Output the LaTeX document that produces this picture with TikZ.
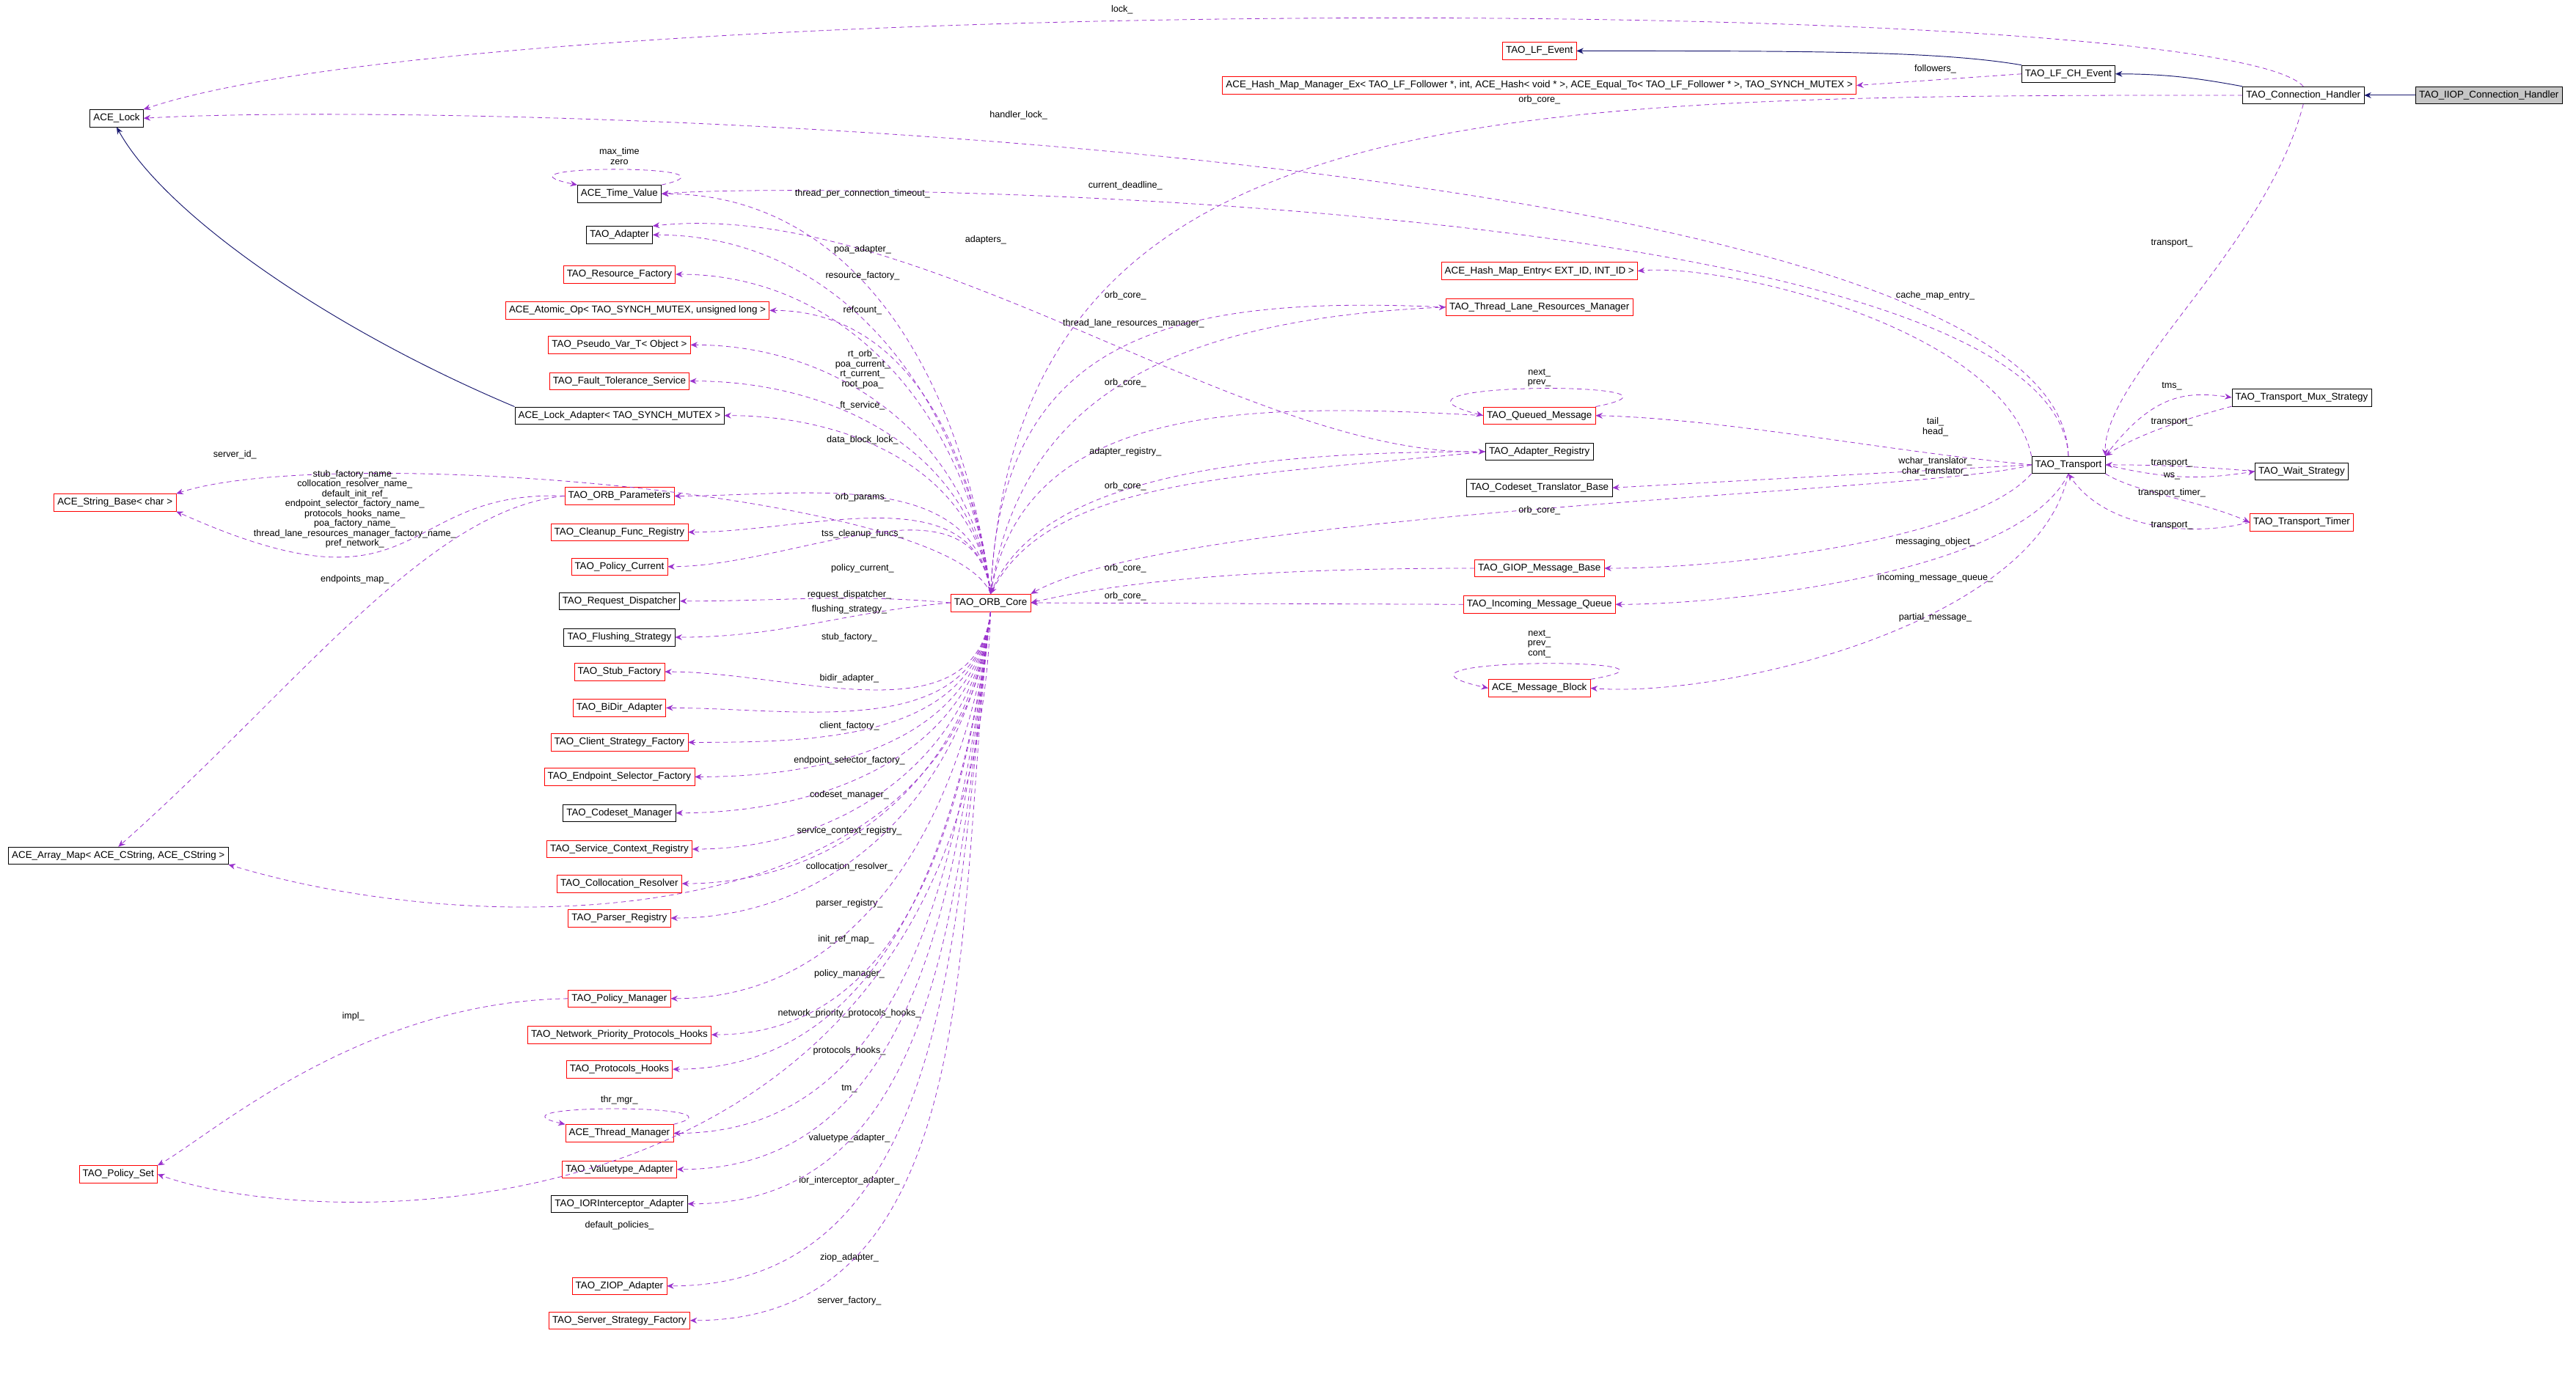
\documentclass[tikz,border=0pt]{standalone}
\usepackage{fontspec}
\setmainfont{Liberation Sans}
\usetikzlibrary{arrows.meta}
\definecolor{dcol}{HTML}{9A32CD}
\definecolor{icol}{HTML}{191970}
\begin{document}
\begin{tikzpicture}[x=0.05cm,y=-0.05cm,
  box/.style={draw=black,fill=white,font=\fontsize{8.5}{9}\selectfont,minimum height=15pt,inner xsep=3pt,inner ysep=1pt},
  rbox/.style={box,draw=red},
  gbox/.style={box,fill=gray!45},
  dep/.style={draw=dcol,dashed,dash pattern=on 4pt off 3pt,-{Stealth[length=6pt,width=5pt]},line width=0.5pt},
  inh/.style={draw=icol,-{Stealth[length=6pt,width=5pt]},line width=0.6pt},
  lbl/.style={font=\fontsize{8}{8.6}\selectfont,align=center,inner sep=0.5pt}]
\useasboundingbox (0,0) rectangle (1568,840);
\fill[white] (0,0) rectangle (1568,840);
% nodes
\node[gbox] (iiop) at (1515,58) {TAO\_IIOP\_Connection\_Handler};
\node[box] (conn) at (1402,58) {TAO\_Connection\_Handler};
\node[box] (lfch) at (1259,45) {TAO\_LF\_CH\_Event};
\node[rbox] (lfe) at (937,31) {TAO\_LF\_Event};
\node[rbox] (hmm) at (937,52) {ACE\_Hash\_Map\_Manager\_Ex< TAO\_LF\_Follower *, int, ACE\_Hash< void * >, ACE\_Equal\_To< TAO\_LF\_Follower * >, TAO\_SYNCH\_MUTEX >};
\node[box] (lock) at (71,72) {ACE\_Lock};
\node[box] (tv) at (377,118) {ACE\_Time\_Value};
\node[box] (adapter) at (377,143) {TAO\_Adapter};
\node[rbox] (rf) at (377,167) {TAO\_Resource\_Factory};
\node[rbox] (atomic) at (388,189) {ACE\_Atomic\_Op< TAO\_SYNCH\_MUTEX, unsigned long >};
\node[rbox] (pseudo) at (377,210) {TAO\_Pseudo\_Var\_T< Object >};
\node[rbox] (ft) at (377,232) {TAO\_Fault\_Tolerance\_Service};
\node[box] (lockad) at (377,253) {ACE\_Lock\_Adapter< TAO\_SYNCH\_MUTEX >};
\node[rbox] (sb) at (70,306) {ACE\_String\_Base< char >};
\node[rbox] (params) at (377,302) {TAO\_ORB\_Parameters};
\node[rbox] (cfr) at (377,324) {TAO\_Cleanup\_Func\_Registry};
\node[rbox] (pcur) at (377,345) {TAO\_Policy\_Current};
\node[box] (rd) at (377,366) {TAO\_Request\_Dispatcher};
\node[box] (fs) at (377,388) {TAO\_Flushing\_Strategy};
\node[rbox] (sf) at (377,409) {TAO\_Stub\_Factory};
\node[rbox] (bidir) at (377,431) {TAO\_BiDir\_Adapter};
\node[rbox] (csf) at (377,452) {TAO\_Client\_Strategy\_Factory};
\node[rbox] (esf) at (377,473) {TAO\_Endpoint\_Selector\_Factory};
\node[box] (cm) at (377,495) {TAO\_Codeset\_Manager};
\node[rbox] (scr) at (377,517) {TAO\_Service\_Context\_Registry};
\node[rbox] (cr) at (377,538) {TAO\_Collocation\_Resolver};
\node[rbox] (pr) at (377,559) {TAO\_Parser\_Registry};
\node[box] (amap) at (72,521) {ACE\_Array\_Map< ACE\_CString, ACE\_CString >};
\node[rbox] (pman) at (377,608) {TAO\_Policy\_Manager};
\node[rbox] (nph) at (377,630) {TAO\_Network\_Priority\_Protocols\_Hooks};
\node[rbox] (ph) at (377,651) {TAO\_Protocols\_Hooks};
\node[rbox] (tmgr) at (377,690) {ACE\_Thread\_Manager};
\node[rbox] (va) at (377,712) {TAO\_Valuetype\_Adapter};
\node[box] (iora) at (377,733) {TAO\_IORInterceptor\_Adapter};
\node[rbox] (pset) at (72,715) {TAO\_Policy\_Set};
\node[rbox] (ziop) at (377,783) {TAO\_ZIOP\_Adapter};
\node[rbox] (ssf) at (377,804) {TAO\_Server\_Strategy\_Factory};
\node[rbox] (orb) at (603,367) {TAO\_ORB\_Core};
\node[rbox] (hme) at (937,165) {ACE\_Hash\_Map\_Entry< EXT\_ID, INT\_ID >};
\node[rbox] (tlrm) at (937,187) {TAO\_Thread\_Lane\_Resources\_Manager};
\node[rbox] (qm) at (937,253) {TAO\_Queued\_Message};
\node[box] (areg) at (937,275) {TAO\_Adapter\_Registry};
\node[box] (ctb) at (937,297) {TAO\_Codeset\_Translator\_Base};
\node[rbox] (giop) at (937,346) {TAO\_GIOP\_Message\_Base};
\node[rbox] (imq) at (937,368) {TAO\_Incoming\_Message\_Queue};
\node[rbox] (mb) at (937,419) {ACE\_Message\_Block};
\node[box] (trans) at (1259,283) {TAO\_Transport};
\node[box] (mux) at (1401,242) {TAO\_Transport\_Mux\_Strategy};
\node[box] (wait) at (1401,287) {TAO\_Wait\_Strategy};
\node[rbox] (timer) at (1401,318) {TAO\_Transport\_Timer};
% inheritance
\draw[inh] (iiop) -- (conn);
\draw[inh] (conn.north west) .. controls (1340,48) and (1320,45) .. (lfch.east);
\draw[inh] (lfch.north west) .. controls (1180,31) and (1100,31) .. (lfe.east);
\draw[inh] (lockad.north west) .. controls (200,200) and (100,130) .. (lock.south);
% top edges
\draw[dep] (conn.north) .. controls (1350,-5) and (300,-5) .. (lock.north east);
\node[lbl] at (683,6) {lock\_};
\draw[dep] (trans.north) .. controls (1255,90) and (300,60) .. (lock.east);
\node[lbl] at (620,70) {handler\_lock\_};
\draw[dep] (lfch.west) -- (hmm.east);
\node[lbl] at (1178,42) {followers\_};
\draw[dep] (conn.west) .. controls (900,58) and (620,60) .. (orb.north);
\node[lbl] at (937,61) {orb\_core\_};
\draw[dep] (conn.south) .. controls (1380,150) and (1280,230) .. (trans.north east);
\node[lbl] at (1322,148) {transport\_};
% time value
\draw[dep] (tv.north east) .. controls (460,100) and (290,100) .. (tv.north west);
\node[lbl] at (377,95) {max\_time\\zero};
\draw[dep] (trans.north) .. controls (1250,120) and (500,110) .. (tv.east);
\node[lbl] at (685,113) {current\_deadline\_};
\draw[dep] (areg.west) .. controls (760,280) and (560,120) .. (adapter.north east);
\node[lbl] at (600,146) {adapters\_};
% fan above ORB core
\foreach \t/\l/\ly in {tv/thread\_per\_connection\_timeout\_/118, adapter/poa\_adapter\_/152, rf/resource\_factory\_/168, atomic/refcount\_/189, ft/ft\_service\_/247, lockad/data\_block\_lock\_/268, params/orb\_params\_/303, cfr/tss\_cleanup\_funcs\_/325, pcur/policy\_current\_/346}{
  \draw[dep] (orb.north) to[out=97,in=0] (\t.east);
  \node[lbl] at (525,\ly) {\l};
}
\draw[dep] (orb.north) to[out=97,in=0] (pseudo.east);
\node[lbl] at (525,225) {rt\_orb\_\\poa\_current\_\\rt\_current\_\\root\_poa\_};
\draw[dep] (orb.west) to[out=175,in=0] (rd.east);
\node[lbl] at (517,362) {request\_dispatcher\_};
\draw[dep] (orb.west) to[out=185,in=0] (fs.east);
\node[lbl] at (517,371) {flushing\_strategy\_};
\draw[dep] (orb.north) .. controls (580,300) and (200,270) .. (sb.north east);
\node[lbl] at (143,277) {server\_id\_};
% fan below ORB core
\foreach \t/\l/\ly in {sf/stub\_factory\_/388, bidir/bidir\_adapter\_/413, csf/client\_factory\_/442, esf/endpoint\_selector\_factory\_/463, cm/codeset\_manager\_/484, scr/service\_context\_registry\_/506, cr/collocation\_resolver\_/528, pr/parser\_registry\_/550, pman/policy\_manager\_/593, nph/network\_priority\_protocols\_hooks\_/617, ph/protocols\_hooks\_/640, tmgr/tm\_/663, va/valuetype\_adapter\_/693, iora/ior\_interceptor\_adapter\_/719, ziop/ziop\_adapter\_/766, ssf/server\_factory\_/792}{
  \draw[dep] (orb.south) to[out=263,in=0] (\t.east);
  \node[lbl] at (517,\ly) {\l};
}
\draw[dep] (orb.south) .. controls (585,570) and (300,575) .. (amap.south east);
\node[lbl] at (515,572) {init\_ref\_map\_};
\draw[dep] (orb.south) .. controls (590,760) and (200,752) .. (pset.east);
\node[lbl] at (377,746) {default\_policies\_};
\draw[dep] (tmgr.north east) .. controls (460,672) and (290,672) .. (tmgr.north west);
\node[lbl] at (377,670) {thr\_mgr\_};
% parameters
\draw[dep] (params.west) .. controls (240,298) and (260,380) .. (sb.south east);
\node[lbl] at (216,310) {stub\_factory\_name\_\\collocation\_resolver\_name\_\\default\_init\_ref\_\\endpoint\_selector\_factory\_name\_\\protocols\_hooks\_name\_\\poa\_factory\_name\_\\thread\_lane\_resources\_manager\_factory\_name\_\\pref\_network\_};
\draw[dep] (params.west) .. controls (260,310) and (180,420) .. (amap.north);
\node[lbl] at (216,353) {endpoints\_map\_};
\draw[dep] (pman.west) .. controls (220,610) and (130,690) .. (pset.north east);
\node[lbl] at (215,619) {impl\_};
% middle column
\draw[dep] (orb.north) .. controls (620,250) and (700,195) .. (tlrm.west);
\node[lbl] at (690,197) {thread\_lane\_resources\_manager\_};
\draw[dep] (tlrm.west) .. controls (720,180) and (610,200) .. (orb.north);
\node[lbl] at (685,180) {orb\_core\_};
\draw[dep] (qm.north east) .. controls (1050,232) and (820,232) .. (qm.west);
\node[lbl] at (937,230) {next\_\\prev\_};
\draw[dep] (qm.west) .. controls (760,245) and (625,245) .. (orb.north);
\node[lbl] at (685,233) {orb\_core\_};
\draw[dep] (orb.north) .. controls (630,290) and (760,275) .. (areg.west);
\node[lbl] at (685,275) {adapter\_registry\_};
\draw[dep] (areg.west) .. controls (760,290) and (640,290) .. (orb.north);
\node[lbl] at (685,296) {orb\_core\_};
\draw[dep] (trans.west) .. controls (1180,300) and (720,310) .. (orb.north east);
\node[lbl] at (937,311) {orb\_core\_};
\draw[dep] (giop.west) .. controls (800,346) and (700,350) .. (orb.east);
\node[lbl] at (685,346) {orb\_core\_};
\draw[dep] (imq.west) -- (orb.east);
\node[lbl] at (685,363) {orb\_core\_};
\draw[dep] (mb.north east) .. controls (1050,400) and (820,400) .. (mb.west);
\node[lbl] at (937,392) {next\_\\prev\_\\cont\_};
% transport outgoing
\draw[dep] (trans.north west) .. controls (1220,200) and (1050,160) .. (hme.east);
\node[lbl] at (1178,180) {cache\_map\_entry\_};
\draw[dep] (trans.west) .. controls (1150,275) and (1050,255) .. (qm.east);
\node[lbl] at (1178,260) {tail\_\\head\_};
\draw[dep] (trans.west) -- (ctb.east);
\node[lbl] at (1178,284) {wchar\_translator\_\\char\_translator\_};
\draw[dep] (trans.south west) .. controls (1200,330) and (1050,346) .. (giop.east);
\node[lbl] at (1178,330) {messaging\_object\_};
\draw[dep] (trans.south) .. controls (1230,350) and (1050,368) .. (imq.east);
\node[lbl] at (1178,352) {incoming\_message\_queue\_};
\draw[dep] (trans.south) .. controls (1240,380) and (1050,425) .. (mb.east);
\node[lbl] at (1178,376) {partial\_message\_};
\draw[dep] (trans.north east) .. controls (1310,240) and (1330,238) .. (mux.west);
\node[lbl] at (1322,235) {tms\_};
\draw[dep] (mux.south west) .. controls (1330,255) and (1300,265) .. (trans.north east);
\node[lbl] at (1322,257) {transport\_};
\draw[dep] (trans.east) .. controls (1320,292) and (1340,292) .. (wait.west);
\node[lbl] at (1322,290) {ws\_};
\draw[dep] (wait.west) .. controls (1340,284) and (1310,283) .. (trans.east);
\node[lbl] at (1322,282) {transport\_};
\draw[dep] (trans.south east) .. controls (1300,300) and (1340,305) .. (timer.west);
\node[lbl] at (1322,300) {transport\_timer\_};
\draw[dep] (timer.west) .. controls (1330,328) and (1280,320) .. (trans.south);
\node[lbl] at (1322,320) {transport\_};
\end{tikzpicture}
\end{document}
